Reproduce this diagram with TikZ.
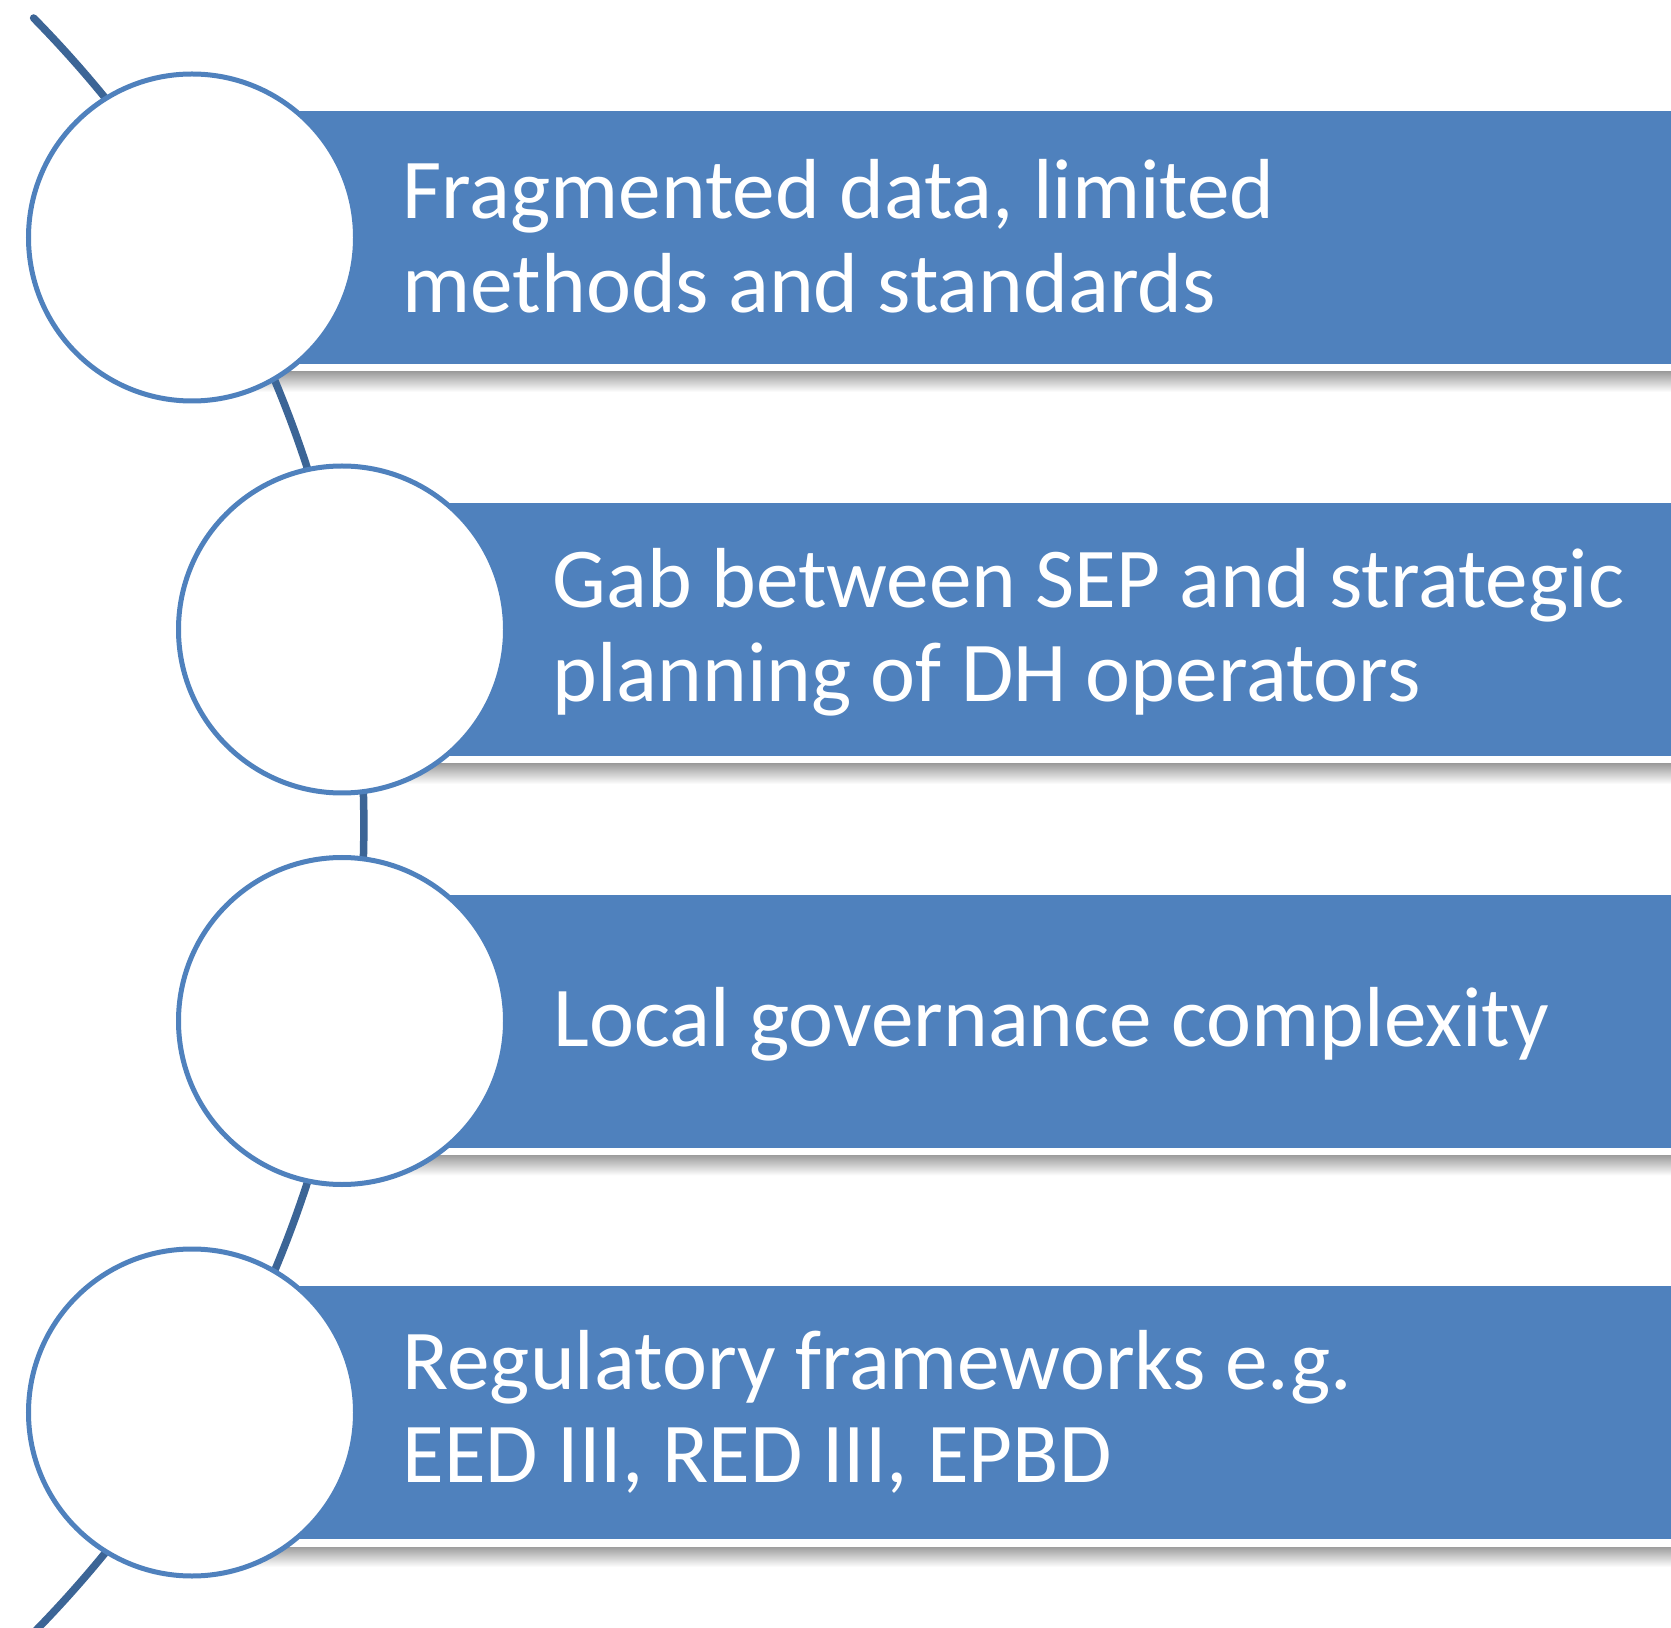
\documentclass[tikz,border=0pt]{standalone}
\usepackage{fontspec}
\setmainfont{Carlito}
\usetikzlibrary{shapes,positioning}
\definecolor{barblue}{HTML}{4F81BD}
\definecolor{spineblue}{HTML}{3C6596}
\tikzstyle{bar} = [rectangle, fill=barblue, anchor=west, inner sep=0pt, outer sep=0pt, minimum height=2.53cm]
\tikzstyle{ring} = [circle, draw=barblue, line width=0.05cm, fill=white, minimum size=3.27cm, inner sep=0pt]
\tikzstyle{bartext} = [anchor=west, align=left, text=white, inner sep=0pt, font=\fontsize{24.25}{26.6}\selectfont]
\tikzstyle{spine} = [line width=0.075cm, draw=spineblue, line cap=round]
\tikzstyle{barshadow} = [top color=black!38, bottom color=white]

\begin{document}
\begin{tikzpicture}
        \useasboundingbox (0,0) rectangle (16.71,16.27);

            % bars
            \node (FD) [bar, minimum width=14.79cm] at (1.92,13.895) { };
            \node (GS) [bar, minimum width=13.29cm] at (3.42,9.975) { };
            \node (LG) [bar, minimum width=13.29cm] at (3.42,6.06) { };
            \node (RF) [bar, minimum width=14.79cm] at (1.92,2.145) { };
            \shade[barshadow] ([yshift=-0.08cm]FD.south west) rectangle ([yshift=-0.28cm]FD.south east);
            \shade[barshadow] ([yshift=-0.08cm]GS.south west) rectangle ([yshift=-0.28cm]GS.south east);
            \shade[barshadow] ([yshift=-0.08cm]LG.south west) rectangle ([yshift=-0.28cm]LG.south east);
            \shade[barshadow] ([yshift=-0.08cm]RF.south west) rectangle ([yshift=-0.28cm]RF.south east);

            % spine behind the circles
            \coordinate (top) at (0.336,16.09);
            \draw[spine] (top) arc[start angle=44.5, end angle=-44.6, radius=11.52cm];

            % circles
            \node (FDc) [ring] at (FD.west) { };
            \node (GSc) [ring] at (GS.west) { };
            \node (LGc) [ring] at (LG.west) { };
            \node (RFc) [ring] at (RF.west) { };

            % labels
            \node (FDt) [bartext] at (4.02,13.91) {Fragmented data, limited\\methods and standards};
            \node (GSt) [bartext] at (5.52,9.95) {Gab between SEP and strategic\\planning of DH operators};
            \node (LGt) [bartext] at (5.53,6.03) {Local governance complexity};
            \node (RFt) [bartext] at (4.02,2.15) {Regulatory frameworks e.g.\\EED III, RED III, EPBD};

    \end{tikzpicture}
\end{document}
